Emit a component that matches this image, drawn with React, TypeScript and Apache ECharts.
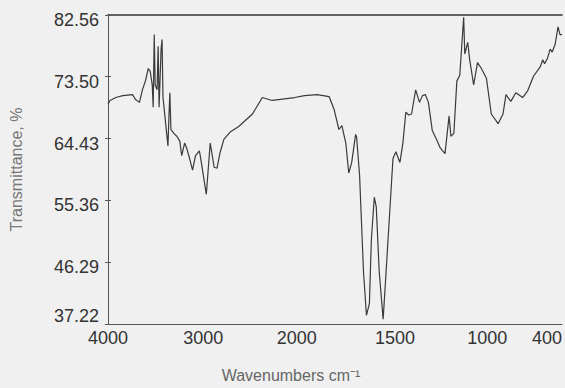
import React, { useEffect, useRef } from "react";
import * as echarts from "echarts";

// Spectrum data (wavenumber cm-1, transmittance %)
const wavenumbers = [
  4000, 3979, 3918, 3845, 3742, 3711, 3670, 3639, 3608, 3577, 3557, 3536, 3526, 3515, 3505, 3485,
  3474, 3464, 3443, 3433, 3423, 3402, 3392, 3371, 3361, 3351, 3340, 3309, 3278, 3247, 3227, 3196,
  3175, 3144, 3113, 3082, 3041, 3021, 2968, 2926, 2884, 2853, 2821, 2779, 2705, 2621, 2474, 2368,
  2263, 2021, 1960, 1895, 1835, 1810, 1785, 1770, 1750, 1735, 1720, 1700, 1695, 1680, 1660, 1645,
  1630, 1620, 1605, 1595, 1580, 1560, 1545, 1525, 1510, 1495, 1473, 1457, 1441, 1426, 1410, 1388,
  1367, 1351, 1335, 1319, 1298, 1271, 1255, 1229, 1207, 1197, 1181, 1165, 1149, 1128, 1122, 1106,
  1096, 1074, 1053, 1032, 1005, 968, 913, 874, 850, 811, 771, 716, 676, 629, 574, 555,
  540, 518, 495, 479, 455, 432, 416, 400,
];
const transmittance = [
  69.45, 70.02, 70.45, 70.73, 70.87, 70.16, 69.74, 71.58, 72.86, 74.71, 74.28, 72.29, 69.03, 79.68, 72.29, 71.58,
  77.97, 69.03, 77.55, 78.97, 70.45, 67.61, 66.19, 63.35, 67.61, 71.16, 65.76, 65.19, 64.77, 64.06, 61.93, 63.77,
  63.06, 61.5, 59.8, 61.93, 62.64, 60.93, 56.25, 63.77, 60.22, 60.08, 62.35, 64.34, 65.48, 66.19, 68.03, 70.45,
  70.02, 70.45, 70.73, 70.87, 70.59, 68.74, 65.76, 66.33, 63.77, 59.37, 60.93, 65.05, 64.63, 59.09, 44.89, 38.5,
  40.2, 49.57, 55.82, 54.4, 44.89, 37.93, 44.89, 54.4, 61.5, 62.49, 60.93, 63.77, 68.32, 67.89, 68.03, 71.58,
  69.74, 70.73, 70.87, 69.74, 65.62, 64.06, 63.06, 62.21, 67.75, 64.77, 65.19, 72.86, 73.71, 82.23, 76.84, 78.54,
  76.13, 72.29, 75.56, 74.71, 73.29, 68.03, 66.61, 68.03, 70.87, 69.88, 71.16, 70.45, 71.44, 73.57, 74.99, 75.99,
  75.42, 76.13, 77.55, 77.12, 78.26, 80.81, 79.68, 79.68,
];

// Axis ticks
const xTickWavenumbers = [4000, 3000, 2000, 1500, 1000, 400];
const yTickValues = [37.22, 46.29, 55.36, 64.43, 73.5, 82.56];

// Instrument's non-linear wavenumber scale (scale expansion below 2000 cm-1)
const scaleAnchorsWn = [4000, 3000, 2000, 1500, 1000, 400];
const scaleAnchorsPos = [0, 97, 192, 292, 386, 462];

function toPos(w: number): number {
  for (let i = 0; i < scaleAnchorsWn.length - 1; i++) {
    const a = scaleAnchorsWn[i];
    const b = scaleAnchorsWn[i + 1];
    if (w <= a && w >= b) {
      const t = (a - w) / (a - b);
      return scaleAnchorsPos[i] + t * (scaleAnchorsPos[i + 1] - scaleAnchorsPos[i]);
    }
  }
  return w > scaleAnchorsWn[0] ? scaleAnchorsPos[0] : scaleAnchorsPos[scaleAnchorsPos.length - 1];
}

const FONT = '"Liberation Sans", Arial, Helvetica, sans-serif';

export default function App() {
  const ref = useRef<HTMLDivElement>(null);
  useEffect(() => {
    if (!ref.current) return;
    const chart = echarts.init(ref.current, null, { renderer: "svg" });
    const xPositions = xTickWavenumbers.map(toPos);
    const xMin = toPos(4000);
    const xMax = toPos(400);
    const labelFor = (v: number) => {
      let best = 0;
      let d = Infinity;
      xPositions.forEach((p, i) => {
        if (Math.abs(p - v) < d) {
          d = Math.abs(p - v);
          best = i;
        }
      });
      return String(xTickWavenumbers[best]);
    };
    chart.setOption({
      animation: false,
      backgroundColor: "#f0f0f0",
      grid: { left: 100, right: 3, top: 15, bottom: 54, show: false },
      xAxis: [
        {
          type: "value",
          min: xMin,
          max: xMax,
          position: "bottom",
          axisLine: { show: true, lineStyle: { color: "#555", width: 1 } },
          axisTick: { show: false },
          splitLine: { show: false },
          axisLabel: {
            customValues: xPositions,
            formatter: (v: number) => labelFor(v),
            color: "#333",
            fontSize: 18,
            fontFamily: FONT,
            margin: 5,
            alignMaxLabel: "right",
            showMaxLabel: true,
            showMinLabel: true,
          },
          name: "Wavenumbers cm\u207B\u00B9",
          nameLocation: "middle",
          nameGap: 43,
          nameTextStyle: {
            color: "#666",
            fontSize: 16,
            fontFamily: FONT,
            padding: [0, 88, 0, 0],
          },
        },
        {
          type: "value",
          min: xMin,
          max: xMax,
          position: "top",
          axisLine: { show: true, lineStyle: { color: "#333", width: 1.5 } },
          axisTick: { show: false },
          axisLabel: { show: false },
          splitLine: { show: false },
        },
      ],
      yAxis: [
        {
          type: "value",
          min: 37.22,
          max: 82.56,
          position: "left",
          axisLine: { show: true, lineStyle: { color: "#555", width: 1 } },
          axisTick: {
            show: true,
            inside: true,
            length: 3,
            customValues: yTickValues,
            lineStyle: { color: "#555" },
          },
          splitLine: { show: false },
          axisLabel: {
            customValues: yTickValues,
            formatter: (v: number) =>
              v === yTickValues[0] ? `{b|${v.toFixed(2)}}` : `{m|${v.toFixed(2)}}`,
            rich: {
              m: { padding: [10, 0, 0, 0], color: "#333", fontSize: 18, fontFamily: FONT },
              b: { padding: [0, 0, 16, 0], color: "#333", fontSize: 18, fontFamily: FONT },
            },
            margin: 9,
            showMinLabel: true,
            showMaxLabel: true,
          },
          name: "Transmittance, %",
          nameLocation: "middle",
          nameGap: 84,
          nameTextStyle: { color: "#777", fontSize: 16, fontFamily: FONT },
        },
        {
          type: "value",
          min: 37.22,
          max: 82.56,
          position: "right",
          axisLine: { show: true, lineStyle: { color: "#555", width: 1 } },
          axisTick: {
            show: true,
            inside: true,
            length: 3,
            customValues: yTickValues,
            lineStyle: { color: "#555" },
          },
          axisLabel: { show: false },
          splitLine: { show: false },
        },
      ],
      series: [
        {
          type: "line",
          xAxisIndex: 0,
          yAxisIndex: 0,
          data: wavenumbers.map((w, i) => [toPos(w), transmittance[i]]),
          showSymbol: false,
          lineStyle: { color: "#3a3a3a", width: 1.2 },
          silent: true,
        },
      ],
    });
    return () => chart.dispose();
  }, []);
  return (
    <div
      ref={ref}
      style={{ position: "absolute", left: 0, top: 0, width: 565, height: 388, background: "#f0f0f0" }}
    />
  );
}
